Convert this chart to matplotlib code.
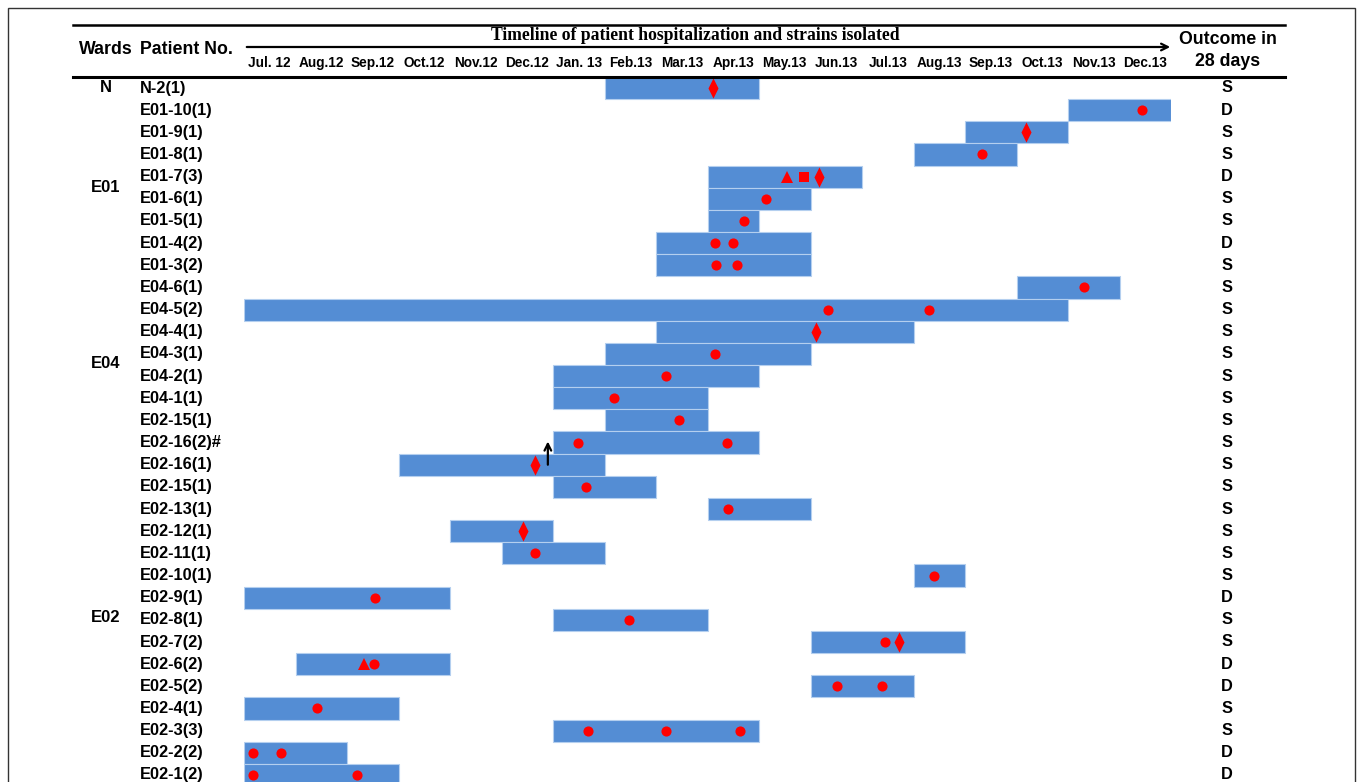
import matplotlib
matplotlib.use("Agg")
import matplotlib.pyplot as plt
from matplotlib.patches import Rectangle
from matplotlib.lines import Line2D
import numpy as np

plt.rcParams['font.family'] = ['Liberation Sans', 'DejaVu Sans']

# ---------------- data ----------------
months = ["Jul. 12", "Aug.12", "Sep.12", "Oct.12", "Nov.12", "Dec.12", "Jan. 13",
          "Feb.13", "Mar.13", "Apr.13", "May.13", "Jun.13", "Jul.13", "Aug.13",
          "Sep.13", "Oct.13", "Nov.13", "Dec.13"]

patients = ["N-2(1)", "E01-10(1)", "E01-9(1)", "E01-8(1)", "E01-7(3)", "E01-6(1)",
            "E01-5(1)", "E01-4(2)", "E01-3(2)", "E04-6(1)", "E04-5(2)", "E04-4(1)",
            "E04-3(1)", "E04-2(1)", "E04-1(1)", "E02-15(1)", "E02-16(2)#", "E02-16(1)",
            "E02-15(1)", "E02-13(1)", "E02-12(1)", "E02-11(1)", "E02-10(1)", "E02-9(1)",
            "E02-8(1)", "E02-7(2)", "E02-6(2)", "E02-5(2)", "E02-4(1)", "E02-3(3)",
            "E02-2(2)", "E02-1(2)"]

# hospitalization start / end in months since Jul. 2012
stay_start = [7, 16, 14, 13, 9, 9, 9, 8, 8, 15, 0, 8, 7, 6, 6, 7, 6, 3,
              6, 9, 4, 5, 13, 0, 6, 11, 1, 11, 0, 6, 0, 0]
stay_end = [10, 18, 16, 15, 12, 11, 10, 11, 11, 17, 16, 13, 11, 10, 9, 9, 10, 7,
            8, 11, 6, 7, 14, 4, 9, 14, 4, 13, 3, 10, 2, 3]

outcomes = ["S", "D", "S", "S", "D", "S", "S", "D", "S", "S", "S", "S", "S", "S",
            "S", "S", "S", "S", "S", "S", "S", "S", "S", "D", "S", "S", "D", "D",
            "S", "S", "D", "D"]

wards = ["N", "E01", "E04", "E02"]
ward_rows = [0, 4.47, 12.45, 23.9]

# isolated strains (row index, time in months)
circle_rows = [1, 3, 5, 6, 7, 7, 8, 8, 9, 10, 10, 12, 13, 14, 15, 16, 16, 18, 19,
               21, 22, 23, 24, 25, 26, 27, 27, 28, 29, 29, 29, 30, 30, 31, 31]
circle_x = [17.44, 14.33, 10.14, 9.71, 9.15, 9.50, 9.17, 9.57, 16.31, 11.34, 13.30,
            9.15, 8.19, 7.18, 8.45, 6.49, 9.38, 6.64, 9.40, 5.65, 13.40, 2.54, 7.48,
            12.45, 2.52, 11.51, 12.39, 1.42, 6.68, 8.19, 9.63, 0.17, 0.72, 0.17, 2.19]
diamond_rows = [0, 2, 4, 11, 17, 20, 25]
diamond_x = [9.10, 15.18, 11.17, 11.11, 5.65, 5.42, 12.72]
triangle_rows = [4, 26]
triangle_x = [10.54, 2.33]
square_rows = [4]
square_x = [10.87]

# arrow between E02-16(1) and E02-16(2)#
arrow_x = 5.90
arrow_from_row = 17.0
arrow_to_row = 15.95

# ---------------- figure ----------------
W, H = 1358, 782
fig = plt.figure(figsize=(W / 100, H / 100), dpi=100)

def fx(px):
    return px / W

def fy(py):
    return 1 - py / H

x0, x1 = 244, 1171
row0, dy = 88.0, 22.16
ytop = row0 - 0.5 * dy
ybot_row = (H - row0) / dy
ax = fig.add_axes([fx(x0), 0, fx(x1) - fx(x0), fy(ytop)])
ax.set_xlim(0, len(months))
ax.set_ylim(ybot_row, -0.5)
for s in ax.spines.values():
    s.set_visible(False)

rows = np.arange(len(patients))
starts = np.array(stay_start)
ends = np.array(stay_end)
ax.barh(rows, ends - starts, left=starts, height=1.0, color='#548DD4',
        edgecolor='#B4CFEF', linewidth=0.8, zorder=2)

ax.plot(circle_x, circle_rows, 'o', color='#FF0000', markersize=7.3,
        markeredgewidth=0, zorder=4)
diamond = [(0, 1), (0.5, 0), (0, -1), (-0.5, 0), (0, 1)]
ax.plot(diamond_x, diamond_rows, linestyle='none', marker=diamond, color='#FF0000',
        markersize=14.5, markeredgewidth=0, zorder=4)
ax.plot(triangle_x, triangle_rows, '^', color='#FF0000', markersize=9,
        markeredgewidth=0, zorder=4)
ax.plot(square_x, square_rows, 's', color='#FF0000', markersize=7.5,
        markeredgewidth=0, zorder=4)

ax.annotate("", xy=(arrow_x, arrow_to_row), xytext=(arrow_x, arrow_from_row),
            arrowprops=dict(arrowstyle='->', color='black', lw=1.6,
                            shrinkA=0, shrinkB=0, mutation_scale=12), zorder=5)

# month labels on top
ax.xaxis.tick_top()
ax.set_xticks(np.arange(len(months)) + 0.5)
ax.set_xticklabels(months, fontsize=9.8, fontweight='bold')
ax.tick_params(axis='x', length=0, pad=5)
ax.set_yticks([])

# row labels, ward labels, outcomes
lab_trans = matplotlib.transforms.blended_transform_factory(fig.transFigure, ax.transData)
for r, p in enumerate(patients):
    ax.text(fx(140), r, p, transform=lab_trans, ha='left', va='center',
            fontsize=11.8, fontweight='bold', clip_on=False)
for r, o in enumerate(outcomes):
    ax.text(fx(1227), r, o, transform=lab_trans, ha='center', va='center',
            fontsize=11.8, fontweight='bold', clip_on=False)
for w, r in zip(wards, ward_rows):
    ax.text(fx(106), r, w, transform=lab_trans, ha='center', va='center',
            fontsize=12, fontweight='bold', clip_on=False)

# header
fig.add_artist(Line2D([fx(73), fx(1285)], [fy(25), fy(25)], color='black', lw=1.8))
fig.add_artist(Line2D([fx(73), fx(1285)], [fy(76.5), fy(76.5)], color='black', lw=2.2))
fig.text(fx(106), fy(50), "Wards", ha='center', va='center', fontsize=12.8, fontweight='bold')
fig.text(fx(186), fy(50), "Patient No.", ha='center', va='center', fontsize=12.8, fontweight='bold')
fig.text(fx(1228), fy(40), "Outcome in", ha='center', va='center', fontsize=12.8, fontweight='bold')
fig.text(fx(1228), fy(62), "28 days", ha='center', va='center', fontsize=12.8, fontweight='bold')
fig.text(fx(695), fy(36), "Timeline of patient hospitalization and strains isolated",
         ha='center', va='center', fontsize=12.7, fontweight='bold',
         family=['Liberation Serif', 'DejaVu Serif'])
fig.add_artist(matplotlib.patches.FancyArrowPatch(
    (fx(244), fy(47)), (fx(1173), fy(47)), transform=fig.transFigure,
    arrowstyle='->', mutation_scale=12, lw=1.6, color='black'))

# page border
fig.add_artist(Rectangle((fx(8), fy(H + 10)), fx(1355) - fx(8), fy(8) - fy(H + 10),
                         transform=fig.transFigure, fill=False, edgecolor='#333333', lw=1.0))

fig.savefig("out.png", dpi=100)
